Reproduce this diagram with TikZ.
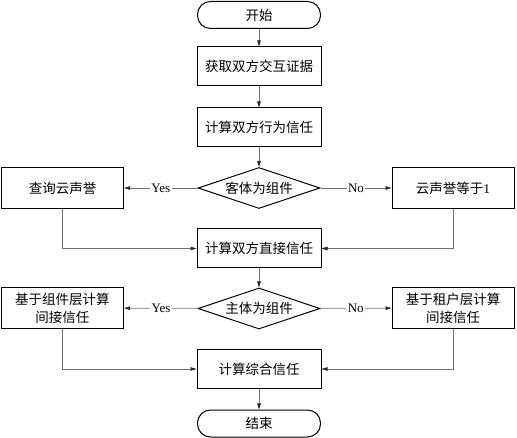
\documentclass[tikz,border=0pt]{standalone}
\usepackage{fontspec}
\setmainfont{Liberation Serif}
\newfontfamily\cjk{Noto Sans CJK SC}
\usetikzlibrary{shapes.geometric,arrows.meta,positioning}
\tikzset{
    process element/.style={
        draw,line width=1pt,
        fill=white,
        minimum width=124pt,minimum height=39pt,
        align=center,
        font=\cjk\fontsize{13.5}{18}\selectfont
    },
    side element/.style={
        process element,
        minimum width=122pt,minimum height=41pt
    },
    terminal element/.style={
        draw,line width=1pt,rounded corners=13pt,
        fill=white,
        minimum width=123pt,minimum height=27pt,
        font=\cjk\fontsize{13.5}{18}\selectfont
    },
    decision element/.style={
        draw,line width=1pt,diamond,aspect=3,inner sep=1pt,
        fill=white,
        minimum width=122pt,minimum height=41pt,
        font=\cjk\fontsize{13.5}{18}\selectfont
    },
    flow/.style={draw=black!55,line width=0.7pt,->},
    label text/.style={fill=white,inner sep=1.5pt,text=black,font=\rmfamily\fontsize{13}{15}\selectfont},
    >={Triangle[length=6pt,width=3.5pt,color=black!85]}
}
\begin{document}
\begin{tikzpicture}[x=1pt,y=1pt]
\useasboundingbox (0,0) rectangle (517,-438);
% centre column
\node[terminal element] (start) at (259,-15) {开始};
\foreach \i/\y/\name in {evid/-66.5/获取双方交互证据,behav/-127.5/计算双方行为信任,direct/-248.5/计算双方直接信任,overall/-369/计算综合信任}
    \node[process element] (\i) at (259,\y) {\name};
\node[decision element] (objdec) at (259,-188) {客体为组件};
\node[decision element] (subdec) at (259,-308.5) {主体为组件};
\node[terminal element] (end) at (259,-423.5) {结束};
% side branches
\node[side element] (query) at (62.5,-188) {查询云声誉};
\node[side element] (repone) at (453,-188) {云声誉等于{\rmfamily 1}};
\node[side element] (compside) at (62.5,-308) {基于组件层计算\\间接信任};
\node[side element] (tenantside) at (453,-308) {基于租户层计算\\间接信任};
% connectors
\draw[flow] (start) -- (evid);
\draw[flow] (evid) -- (behav);
\draw[flow] (behav) -- (objdec);
\draw[flow] (objdec) -- node[label text] {Yes} (query);
\draw[flow] (objdec) -- node[label text] {No} (repone);
\draw[flow] (query) |- (direct);
\draw[flow] (repone) |- (direct);
\draw[flow] (direct) -- (subdec);
\draw[flow] (subdec) -- node[label text] {Yes} (compside);
\draw[flow] (subdec) -- node[label text] {No} (tenantside);
\draw[flow] (compside) |- (overall);
\draw[flow] (tenantside) |- (overall);
\draw[flow] (overall) -- (end);
\end{tikzpicture}
\end{document}
